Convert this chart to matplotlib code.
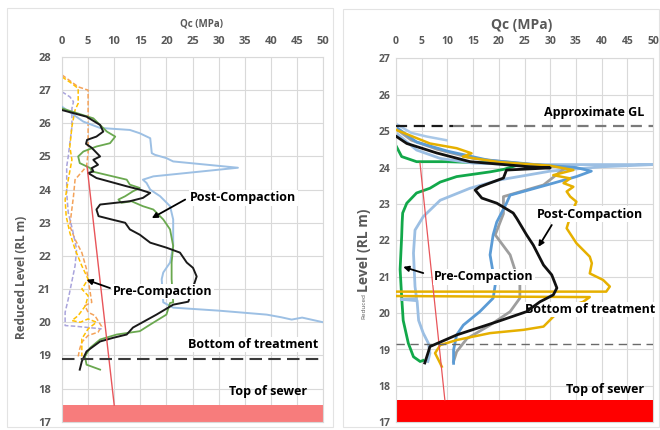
import matplotlib
matplotlib.use("Agg")
import matplotlib.pyplot as plt
from matplotlib.patches import Rectangle
import numpy as np

plt.rcParams['font.family'] = ['Open Sans', 'DejaVu Sans']

GRAY_TXT = '#595959'
GRID = '#d9d9d9'

# ---- left panel: Qc (MPa) against reduced level (RL m) ----
# post-compaction soundings (solid)
left_blue_q = [0, 4.1, 7.3, 13.0, 14.9, 16.9, 17.2, 17.8, 20.0, 21.3, 33.7, 17.5, 15.5, 16.2, 16.9,
               18.8, 20.7, 21.3, 21.3, 20.7, 19.4, 19.1, 19.4, 21.3, 30.0, 39.2, 42.0, 44.0, 46.0, 50.0]
left_blue_z = [26.5, 26.05, 25.86, 25.8, 25.7, 25.55, 25.1, 25.05, 24.95, 24.85, 24.66, 24.4, 24.3, 24.2, 24.0,
               23.8, 23.5, 23.1, 22.3, 21.8, 21.5, 21.3, 20.6, 20.44, 20.35, 20.23, 20.15, 20.08, 20.14, 20.0]

left_black_q = [0, 4.7, 7.3, 7.9, 6.6, 4.8, 4.6, 5.7, 7.3, 6.0, 6.9, 5.7, 6.0, 5.0, 6.6, 12.4, 14.9, 16.9,
                15.5, 13.0, 7.3, 6.6, 7.0, 9.5, 12.1, 13.0, 14.9, 16.9, 20.0, 22.6, 23.9, 25.1, 25.8,
                24.2, 21.3, 18.1, 13.6, 12.4, 9.8, 7.3, 4.7, 3.8, 3.4]
left_black_z = [26.4, 26.2, 25.95, 25.75, 25.6, 25.5, 25.38, 25.26, 25.0, 24.9, 24.75, 24.65, 24.55, 24.5,
                24.35, 24.1, 24.0, 23.9, 23.75, 23.65, 23.55, 23.4, 23.2, 23.1, 23.0, 22.8, 22.64, 22.4,
                22.25, 22.1, 21.8, 21.64, 21.38, 20.62, 20.53, 20.23, 19.84, 19.63, 19.53, 19.42, 19.12,
                18.82, 18.57]

left_green_q = [0, 6.0, 8.6, 10.2, 9.2, 6.6, 4.1, 3.1, 3.4, 5.4, 5.7, 12.4, 13.0, 14.9, 13.6, 12.1, 10.8,
                11.4, 13.3, 15.5, 17.5, 19.4, 20.7, 21.3, 21.0, 21.0, 21.3, 20.7, 20.0, 16.9, 14.9, 10.5,
                7.3, 5.4, 4.4, 4.7, 7.3]
left_green_z = [26.45, 26.15, 25.75, 25.6, 25.4, 25.3, 25.15, 25.0, 24.8, 24.65, 24.55, 24.3, 24.15, 24.05,
                23.95, 23.8, 23.7, 23.6, 23.65, 23.5, 23.4, 23.1, 22.8, 22.3, 21.8, 21.3, 20.6, 20.58,
                20.23, 19.93, 19.73, 19.63, 19.48, 19.23, 18.97, 18.72, 18.57]

# pre-compaction soundings (dashed)
left_orange_q = [0, 3.1, 5.0, 5.0, 5.0, 4.7, 2.5, 2.2, 1.8, 1.5, 2.5, 3.8, 4.7, 5.0, 5.7, 4.4, 5.0, 6.3,
                 7.6, 6.9, 5.0, 3.8, 3.4, 3.1]
left_orange_z = [27.46, 27.1, 27.0, 26.4, 25.1, 24.7, 24.3, 23.8, 23.3, 22.9, 22.5, 22.1, 21.6, 21.3,
                 20.6, 20.5, 20.3, 20.2, 19.87, 19.7, 19.6, 19.4, 19.2, 18.97]
left_yellow_q = [0, 1.9, 3.1, 3.1, 2.5, 1.9, 1.5, 1.9, 1.2, 0.6, 0.8, 1.5, 2.5, 3.8, 5.0, 3.8, 5.0, 4.5,
                 3.1, 1.9, 3.5, 5.0, 6.6, 5.0, 3.8, 3.8, 3.8]
left_yellow_z = [27.4, 27.2, 27.05, 26.6, 26.4, 25.9, 25.3, 24.9, 24.3, 23.7, 23.2, 22.7, 22.2, 21.7,
                 21.3, 21.0, 20.8, 20.5, 20.2, 20.05, 20.0, 20.1, 20.0, 19.8, 19.5, 19.2, 18.97]
left_purple_q = [0, 1.5, 2.2, 1.9, 1.9, 1.5, 1.2, 0.9, 0.9, 1.2, 2.0, 2.8, 2.5, 1.2, 0.6, 0.6, 0.6, 2.5, 7.6]
left_purple_z = [26.95, 26.8, 26.65, 26.45, 25.9, 25.4, 25.0, 24.7, 23.9, 23.3, 22.8, 22.2, 21.7, 20.7,
                 20.3, 20.0, 19.9, 19.88, 19.8]

left_trend_q = [4.8, 10.0]
left_trend_z = [24.7, 17.5]
left_treat_z = 18.9
left_sewer_z = 17.5

# ---- right panel ----
right_green_q = [0.1, 1.1, 4.0, 9.8, 19.6, 24.0, 21.0, 18.3, 11.8, 8.6, 6.6, 4.0, 2.1, 1.3, 1.2, 1.1, 0.8,
                 1.1, 1.4, 2.4, 3.4, 4.7, 5.3]
right_green_z = [24.57, 24.3, 24.16, 24.16, 24.12, 24.08, 23.95, 23.88, 23.75, 23.6, 23.43, 23.3, 23.02,
                 22.75, 22.5, 22.1, 21.2, 20.45, 19.8, 19.17, 18.8, 18.67, 18.7]

right_lblue_q = [0.1, 4.0, 8.6, 15.0, 25.0, 35.0, 50.0, 40.0, 30.0, 20.2, 14.4, 8.6, 5.3, 3.7, 3.4, 3.7,
                 4.0, 1.0, 4.1, 4.4, 5.3, 6.3, 6.6, 6.2]
right_lblue_z = [24.94, 24.48, 24.25, 24.12, 24.08, 24.08, 24.08, 24.02, 23.9, 23.66, 23.43, 23.1, 22.65,
                 22.28, 21.65, 20.73, 20.4, 20.38, 20.34, 19.8, 19.45, 19.17, 18.9, 18.67]

right_lblue2_q = [0.0, 3.0, 6.0, 9.8]
right_lblue2_z = [25.2, 24.95, 24.85, 24.75]

right_gray_q = [0.1, 3.0, 8.0, 15.0, 25.0, 33.0, 28.7, 20.9, 20.9, 19.3, 22.2, 24.1, 24.1, 22.2, 18.3,
                13.8, 11.8, 11.2]
right_gray_z = [25.05, 24.75, 24.5, 24.25, 24.1, 24.0, 23.52, 23.2, 22.73, 22.15, 21.6, 20.77, 20.41,
                20.04, 19.67, 19.3, 18.94, 18.67]

right_mblue_q = [0.1, 4.0, 10.0, 18.0, 28.0, 35.0, 38.0, 35.1, 30.6, 22.2, 21.5, 19.6, 18.9, 18.3, 19.3,
                 18.9, 16.3, 13.1, 11.8, 11.2, 11.2]
right_mblue_z = [25.1, 24.7, 24.45, 24.2, 24.07, 24.0, 23.9, 23.75, 23.57, 23.24, 23.02, 22.5, 22.15,
                 21.6, 20.77, 20.41, 20.04, 19.67, 19.4, 18.99, 18.62]

right_black_q = [0.1, 2.1, 7.9, 14.4, 26.0, 30.0, 21.5, 20.9, 16.3, 15.4, 16.7, 19.6, 22.8, 23.5, 25.4,
                 26.7, 28.7, 30.3, 31.3, 30.6, 28.0, 25.4, 19.6, 11.8, 6.6, 6.3, 5.6]
right_black_z = [24.85, 24.66, 24.4, 24.16, 24.02, 23.99, 23.93, 23.71, 23.47, 23.38, 23.16, 23.02, 22.75,
                 22.6, 22.15, 21.87, 21.32, 21.05, 20.69, 20.5, 20.31, 20.04, 19.76, 19.4, 19.08, 18.94,
                 18.63]

right_yellow_q = [0.1, 6.6, 11.8, 14.7, 13.0, 20.0, 30.0, 34.5, 30.6, 33.9, 32.6, 34.5, 33.2, 33.9, 35.1,
                  34.0, 33.2, 35.1, 37.7, 38.1, 37.7, 40.3, 41.6, 40.9, -2.0, -2.0, 37.7, 36.4, 32.5,
                  30.6, 28.7, 24.8, 18.3, 11.8, 8.6, 7.6, 8.6, 8.9]
right_yellow_z = [25.03, 24.66, 24.53, 24.39, 24.3, 24.15, 24.05, 23.93, 23.79, 23.7, 23.57, 23.47, 23.34,
                  23.2, 23.06, 22.7, 22.33, 21.92, 21.55, 21.37, 21.09, 20.91, 20.73, 20.59, 20.59, 20.47,
                  20.44, 20.31, 20.13, 19.9, 19.63, 19.54, 19.45, 19.26, 19.12, 18.9, 18.62, 18.53]

right_trend_q = [4.67, 9.5]
right_trend_z = [24.12, 17.62]
right_gl_z = 25.14
right_treat_z = 19.15
right_sewer_z = 17.62

fig = plt.figure(figsize=(6.6, 4.3), dpi=100)
fig.patch.set_facecolor('white')

# faint panel frames
fig.add_artist(Rectangle((7 / 660, 0.006), 326 / 660, 0.975, transform=fig.transFigure,
                         fill=False, edgecolor='#e3e3e3', lw=0.8))
fig.add_artist(Rectangle((343 / 660, 0.006), 316 / 660, 0.973, transform=fig.transFigure,
                         fill=False, edgecolor='#e3e3e3', lw=0.8))

ax1 = fig.add_axes([62 / 660, 1 - 421.7 / 430, 261 / 660, 364.7 / 430])
ax2 = fig.add_axes([396 / 660, 1 - 422.3 / 430, 257 / 660, 364.0 / 430])


def style_axes(ax, ymin, ymax, fsize, ypad, xpad):
    ax.set_xlim(0, 50)
    ax.set_ylim(ymin, ymax)
    ax.set_xticks(np.arange(0, 51, 5))
    ax.set_yticks(np.arange(ymin, ymax + 1, 1))
    ax.xaxis.tick_top()
    ax.grid(True, color=GRID, lw=0.8)
    ax.set_axisbelow(True)
    for s in ax.spines.values():
        s.set_color(GRID)
        s.set_linewidth(0.8)
    ax.tick_params(axis='both', length=0, labelsize=fsize, labelcolor=GRAY_TXT)
    ax.tick_params(axis='y', pad=ypad)
    ax.tick_params(axis='x', pad=xpad)
    for lab in ax.get_xticklabels() + ax.get_yticklabels():
        lab.set_fontweight('bold')


style_axes(ax1, 17, 28, 8, 8, 7)
style_axes(ax2, 17, 27, 7.5, 4, 8)

box = dict(facecolor='white', edgecolor='none', pad=1.0)
arrow = dict(arrowstyle='-|>', color='black', lw=1.3, mutation_scale=8, shrinkA=0, shrinkB=0)

# ---- left drawing ----
ax1.axhspan(17, left_sewer_z, color='#f77c7c', lw=0, zorder=1)
ax1.plot(left_orange_q, left_orange_z, color='#f4a259', lw=1.1, ls=(0, (3, 1.5)), zorder=2)
ax1.plot(left_purple_q, left_purple_z, color='#a9a4dc', lw=1.1, ls=(0, (3, 1.5)), zorder=2)
ax1.plot(left_yellow_q, left_yellow_z, color='#ffc000', lw=1.1, ls=(0, (3, 1.5)), zorder=2)
ax1.plot(left_blue_q, left_blue_z, color='#9dc0e4', lw=1.4, zorder=3)
ax1.plot(left_green_q, left_green_z, color='#6aa84f', lw=1.3, zorder=3)
ax1.plot(left_black_q, left_black_z, color='#1a1a1a', lw=1.4, zorder=3)
ax1.plot(left_trend_q, left_trend_z, color='#e8555a', lw=1.0, zorder=3)
ax1.axhline(left_treat_z, color='#3a3a3a', lw=1.5, ls=(0, (6, 3)), zorder=3)

ax1.annotate('', xy=(17.2, 23.14), xytext=(23.6, 23.7), arrowprops=arrow, zorder=6)
ax1.annotate('', xy=(4.7, 21.28), xytext=(9.2, 21.03), arrowprops=arrow, zorder=6)
ax1.text(24.5, 23.75, 'Post-Compaction', fontsize=9, fontweight='bold', va='center', bbox=box, zorder=5)
ax1.text(9.8, 20.93, 'Pre-Compaction', fontsize=9, fontweight='bold', va='center', bbox=box, zorder=5)
ax1.text(49, 19.33, 'Bottom of treatment', fontsize=9, fontweight='bold', ha='right', va='center',
         bbox=box, zorder=5)
ax1.text(47, 17.9, 'Top of sewer', fontsize=9, fontweight='bold', ha='right', va='center', zorder=5)

fig.text(202 / 660, 1 - 24 / 430, 'Qc (MPa)', fontsize=7, fontweight='bold', color=GRAY_TXT,
         ha='center', va='center')
fig.text(22 / 660, 1 - 277 / 430, 'Reduced Level (RL m)', fontsize=8.5, fontweight='bold',
         color=GRAY_TXT, rotation=90, ha='center', va='center')

# ---- right drawing ----
ax2.axhspan(17, right_sewer_z, color='#ff0000', lw=0, zorder=1)
ax2.plot(right_green_q, right_green_z, color='#12a84a', lw=2.0, zorder=2)
ax2.plot(right_lblue_q, right_lblue_z, color='#9cbfe3', lw=2.0, zorder=2)
ax2.plot(right_lblue2_q, right_lblue2_z, color='#a9c8e8', lw=1.8, zorder=2)
ax2.plot(right_gray_q, right_gray_z, color='#9e9e9e', lw=2.0, zorder=2)
ax2.plot(right_mblue_q, right_mblue_z, color='#5b9bd5', lw=2.0, zorder=2)
ax2.plot(right_yellow_q, right_yellow_z, color='#e6b000', lw=1.8, zorder=3)
ax2.plot(right_black_q, right_black_z, color='#111111', lw=2.0, zorder=5)
ax2.plot(right_trend_q, right_trend_z, color='#e8555a', lw=0.9, zorder=3)
ax2.plot([0, 11], [right_gl_z] * 2, color='#1a1a1a', lw=1.6, ls=(0, (5, 3)), zorder=3)
ax2.plot([11, 50], [right_gl_z] * 2, color='#7a7a7a', lw=1.6, ls=(0, (5, 3)), zorder=3)
ax2.axhline(right_treat_z, color='#6a6a6a', lw=1.0, ls=(0, (6, 4)), zorder=3)

ax2.annotate('', xy=(27.7, 21.82), xytext=(30.3, 22.42), arrowprops=arrow, zorder=6)
ax2.annotate('', xy=(1.4, 21.27), xytext=(5.3, 21.1), arrowprops=arrow, zorder=6)
ax2.text(48.3, 25.5, 'Approximate GL', fontsize=9, fontweight='bold', ha='right', va='center', zorder=5)
ax2.text(48, 22.72, 'Post-Compaction', fontsize=9, fontweight='bold', ha='right', va='center',
         bbox=box, zorder=4)
ax2.text(7.4, 21.0, 'Pre-Compaction', fontsize=9, fontweight='bold', va='center', bbox=box, zorder=4)
ax2.text(50.5, 20.1, 'Bottom of treatment', fontsize=9, fontweight='bold', ha='right', va='center',
         bbox=box, zorder=4)
ax2.text(48.3, 17.9, 'Top of sewer', fontsize=9, fontweight='bold', ha='right', va='center', zorder=5)

fig.text(522 / 660, 1 - 25 / 430, 'Qc (MPa)', fontsize=10, fontweight='bold', color=GRAY_TXT,
         ha='center', va='center')
fig.text(364 / 660, 1 - 319 / 430, 'Reduced', fontsize=4.6, color=GRAY_TXT, rotation=90,
         rotation_mode='anchor', ha='left', va='center')
fig.text(364 / 660, 1 - 292 / 430, 'Level (RL m)', fontsize=10, fontweight='bold', color=GRAY_TXT,
         rotation=90, rotation_mode='anchor', ha='left', va='center')

fig.savefig('out.png', dpi=100, facecolor='white')
